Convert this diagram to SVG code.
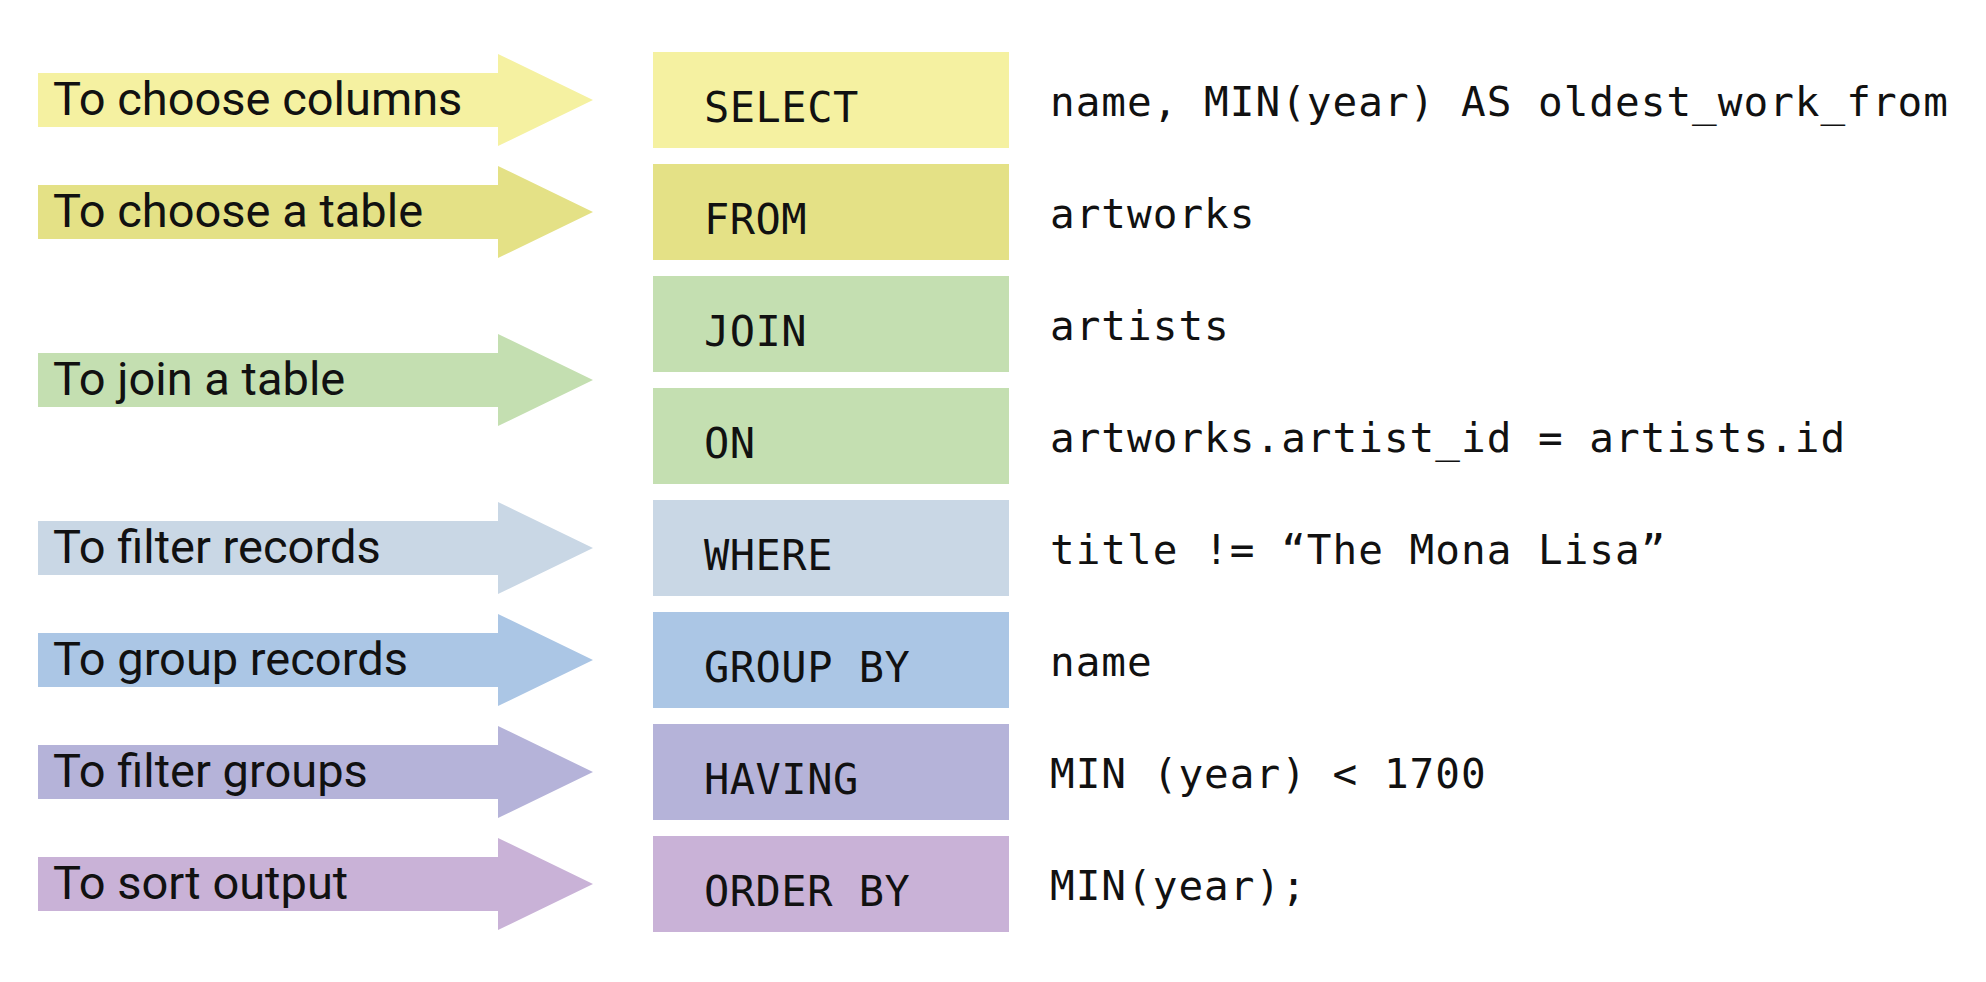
<svg xmlns="http://www.w3.org/2000/svg" xmlns:xlink="http://www.w3.org/1999/xlink" width="1986" height="982" viewBox="0 0 1986 982">
<style>
.lbl{font-family:Roboto,"Liberation Sans",sans-serif;font-size:47px;fill:#111111}
.kw{font-family:"DejaVu Sans Mono","Liberation Mono",monospace;font-size:42px;letter-spacing:0.5px;fill:#111111}
.code{font-family:"DejaVu Sans Mono","Liberation Mono",monospace;font-size:41px;letter-spacing:1px;fill:#111111}
.c1{fill:#f5f1a1}.c2{fill:#e4e186}.c3{fill:#c4dfb1}.c4{fill:#c9d7e5}.c5{fill:#abc6e5}.c6{fill:#b5b3d9}.c7{fill:#c9b2d7}
</style>
<defs>
<path id="arrow" d="M38,-27 H498 V-46 L593,0 L498,46 V27 H38 Z"/>
</defs>
<rect width="1986" height="982" fill="#ffffff"/>
<g id="connectors"/>
<g id="purpose-columns"><use xlink:href="#arrow" y="100" class="c1"/><text class="lbl" x="53" y="115">To choose columns</text></g>
<g id="purpose-table"><use xlink:href="#arrow" y="212" class="c2"/><text class="lbl" x="53" y="227">To choose a table</text></g>
<g id="purpose-join"><use xlink:href="#arrow" y="380" class="c3"/><text class="lbl" x="53" y="395">To join a table</text></g>
<g id="purpose-filter-records"><use xlink:href="#arrow" y="548" class="c4"/><text class="lbl" x="53" y="563">To filter records</text></g>
<g id="purpose-group"><use xlink:href="#arrow" y="660" class="c5"/><text class="lbl" x="53" y="675">To group records</text></g>
<g id="purpose-filter-groups"><use xlink:href="#arrow" y="772" class="c6"/><text class="lbl" x="53" y="787">To filter groups</text></g>
<g id="purpose-sort"><use xlink:href="#arrow" y="884" class="c7"/><text class="lbl" x="53" y="899">To sort output</text></g>

<g id="clause-select"><rect x="653" y="52" width="356" height="96" class="c1"/><text class="kw" x="704" y="122">SELECT</text><text class="code" x="1050" y="116">name, MIN(year) AS oldest_work_from</text></g>
<g id="clause-from"><rect x="653" y="164" width="356" height="96" class="c2"/><text class="kw" x="704" y="234">FROM</text><text class="code" x="1050" y="228">artworks</text></g>
<g id="clause-join"><rect x="653" y="276" width="356" height="96" class="c3"/><text class="kw" x="704" y="346">JOIN</text><text class="code" x="1050" y="340">artists</text></g>
<g id="clause-on"><rect x="653" y="388" width="356" height="96" class="c3"/><text class="kw" x="704" y="458">ON</text><text class="code" x="1050" y="452">artworks.artist_id = artists.id</text></g>
<g id="clause-where"><rect x="653" y="500" width="356" height="96" class="c4"/><text class="kw" x="704" y="570">WHERE</text><text class="code" x="1050" y="564">title != “The Mona Lisa”</text></g>
<g id="clause-groupby"><rect x="653" y="612" width="356" height="96" class="c5"/><text class="kw" x="704" y="682">GROUP BY</text><text class="code" x="1050" y="676">name</text></g>
<g id="clause-having"><rect x="653" y="724" width="356" height="96" class="c6"/><text class="kw" x="704" y="794">HAVING</text><text class="code" x="1050" y="788">MIN (year) &lt; 1700</text></g>
<g id="clause-orderby"><rect x="653" y="836" width="356" height="96" class="c7"/><text class="kw" x="704" y="906">ORDER BY</text><text class="code" x="1050" y="900">MIN(year);</text></g>
</svg>
